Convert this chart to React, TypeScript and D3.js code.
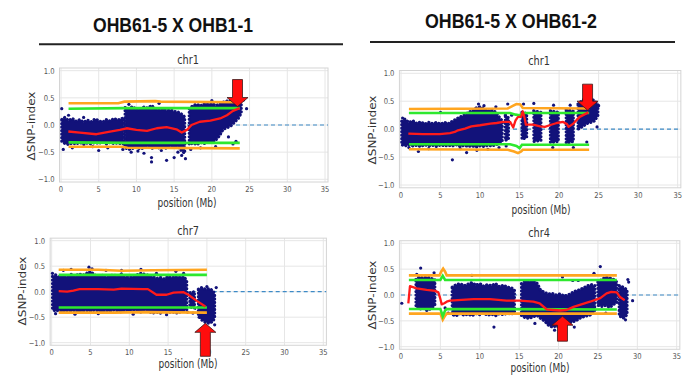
import React from 'react';
import * as d3 from 'd3';

type Pt = [number, number];
type Band = [number, number, number]; // position, low, high ; NaN row = gap

const GAP: Band = [NaN, NaN, NaN];

const headers = ['OHB61-5 X OHB1-1', 'OHB61-5 X OHB61-2'];
const panelTitles = ['chr1', 'chr1', 'chr7', 'chr4'];
const xTicks = [0, 5, 10, 15, 20, 25, 30, 35];
const yTicks = [-1, -0.5, 0, 0.5, 1];

// ---- panel 1 : OHB61-5 x OHB1-1, chr1
const p1Cloud: Band[] = [
  [0.1, -0.30, 0.10], [0.5, -0.34, 0.14], [1.0, -0.36, 0.08], [1.5, -0.33, 0.12], [2.0, -0.35, 0.07],
  [2.5, -0.32, 0.10], [3.0, -0.36, 0.05], [3.5, -0.33, 0.09], [4.0, -0.35, 0.06], [4.5, -0.32, 0.11],
  [5.0, -0.34, 0.08], [5.5, -0.31, 0.05], [6.0, -0.35, 0.10], [6.5, -0.32, 0.07], [7.0, -0.34, 0.12],
  [7.5, -0.33, 0.09], [8.3, -0.35, 0.13], GAP,
  [8.5, -0.42, 0.32], [9.0, -0.45, 0.30], [9.5, -0.43, 0.34], [10.0, -0.40, 0.28], [10.5, -0.44, 0.30],
  [11.0, -0.42, 0.33], [11.5, -0.40, 0.31], [12.0, -0.43, 0.36], [12.5, -0.41, 0.30], [13.0, -0.42, 0.28],
  [13.5, -0.40, 0.30], [14.0, -0.43, 0.26], [14.5, -0.40, 0.28], [15.0, -0.42, 0.25], [15.5, -0.40, 0.24],
  [16.0, -0.48, 0.20], [16.4, -0.52, 0.15], GAP,
  [17.0, -0.36, 0.30], [17.5, -0.33, 0.36], [18.0, -0.36, 0.38], [18.5, -0.32, 0.35], [19.0, -0.34, 0.40],
  [19.5, -0.30, 0.38], [20.0, -0.33, 0.40], [20.5, -0.28, 0.36], [21.0, -0.20, 0.38], [21.5, -0.08, 0.42],
  [22.0, -0.05, 0.44], [22.5, -0.02, 0.45], [23.0, 0.05, 0.46], [23.5, 0.12, 0.45], [23.9, 0.22, 0.42],
];
const p1Dots: Pt[] = [
  [0.1, 0.30], [0.3, -0.45], [1.5, -0.42], [4.2, -0.40], [5.0, -0.47], [6.2, -0.42], [8.2, -0.45],
  [9.3, -0.50], [10.2, -0.48], [11.0, -0.52], [12.0, -0.60], [12.0, -0.68], [13.3, -0.47], [14.0, -0.65],
  [15.0, -0.60], [15.5, -0.50], [16.0, -0.56], [16.5, -0.62], [17.2, -0.45], [18.5, -0.42], [20.5, -0.40],
  [22.2, -0.22], [22.8, -0.35], [23.2, -0.30], [23.0, 0.55], [23.6, 0.50], [24.2, 0.46], [24.6, 0.30],
  [13.0, 0.40], [9.0, 0.38], [20.0, 0.45], [1.0, 0.18], [3.0, 0.14],
];
const p1Red: Pt[] = [
  [0.97, -0.12], [2.5, -0.14], [4.7, -0.17], [6.5, -0.12], [7.8, -0.09], [8.7, -0.06], [10.0, -0.09],
  [11.4, -0.11], [12.7, -0.06], [14.0, -0.04], [15.3, -0.08], [16.0, -0.14], [16.7, -0.09], [17.3, 0.0],
  [18.4, 0.06], [19.8, 0.08], [21.1, 0.12], [22.0, 0.18], [22.8, 0.26], [23.7, 0.31],
];
const p1OrangeHi: Pt[] = [[1, 0.40], [7.6, 0.40], [8.4, 0.43], [12.5, 0.44], [13.2, 0.43], [23.7, 0.42]];
const p1GreenHi: Pt[] = [[1, 0.30], [8.4, 0.31], [23.7, 0.31]];
const p1GreenLo: Pt[] = [[1, -0.32], [8.4, -0.33], [23.7, -0.33]];
const p1OrangeLo: Pt[] = [[1, -0.40], [8.0, -0.40], [8.8, -0.42], [23.7, -0.43]];
const p1Arrow = { x: 23.4, y: 0.34, up: false };

// ---- panel 2 : OHB61-5 x OHB61-2, chr1
const p2Cloud: Band[] = [
  [0.1, -0.28, 0.14], [0.5, -0.30, 0.18], [1.0, -0.28, 0.12], [1.5, -0.30, 0.15], [2.0, -0.29, 0.10],
  [2.5, -0.31, 0.13], [3.0, -0.28, 0.09], [3.5, -0.30, 0.12], [4.0, -0.29, 0.10], [4.5, -0.31, 0.12],
  [5.0, -0.28, 0.09], [5.5, -0.30, 0.12], [6.0, -0.29, 0.10], [6.5, -0.30, 0.14], [7.0, -0.28, 0.18],
  [7.5, -0.31, 0.22], [8.0, -0.29, 0.25], [8.5, -0.31, 0.30], [9.0, -0.30, 0.33], [9.5, -0.32, 0.38],
  [10.0, -0.30, 0.40], [10.5, -0.31, 0.36], [11.0, -0.29, 0.32], [11.5, -0.30, 0.35], [12.0, -0.28, 0.30],
  [12.5, -0.25, 0.20], [12.8, -0.22, 0.15], GAP,
  [13.2, -0.20, 0.25], [13.6, -0.18, 0.20], GAP,
  [15.3, -0.18, 0.30], [15.9, -0.15, 0.28], GAP,
  [16.8, -0.22, 0.33], [17.7, -0.20, 0.30], GAP,
  [18.9, -0.24, 0.33], [19.9, -0.22, 0.30], GAP,
  [20.9, -0.25, 0.35], [21.8, -0.22, 0.32], GAP,
  [22.4, 0.00, 0.45], [23.0, 0.05, 0.52], [23.5, 0.10, 0.56], [24.0, 0.12, 0.55], [24.5, 0.15, 0.50],
  [24.9, 0.25, 0.45],
];
const p2Dots: Pt[] = [
  [0.2, 0.20], [1.0, -0.33], [2.2, -0.40], [3.5, -0.35], [6.5, -0.55], [8.3, -0.42], [9.6, -0.38],
  [10.5, 0.42], [9.8, 0.45], [12.0, 0.40], [12.4, -0.33], [13.5, 0.45], [13.3, -0.30], [14.0, 0.25],
  [15.5, 0.45], [16.8, 0.46], [19.3, 0.43], [21.4, 0.43], [19.2, -0.33], [21.8, -0.33], [23.5, -0.23],
  [24.8, 0.04], [25.0, 0.42], [11.0, -0.36], [5.0, 0.30], [7.5, -0.35],
];
const p2Red: Pt[] = [
  [0.93, -0.08], [2.8, -0.09], [4.9, -0.09], [6.2, -0.07], [6.8, -0.05], [7.2, -0.02], [8.1, 0.01],
  [8.9, 0.05], [10.0, 0.07], [11.3, 0.10], [12.1, 0.11], [12.9, 0.13], [13.8, 0.13], [14.2, 0.03],
  [14.5, 0.16], [14.8, 0.22], [15.2, 0.22], [15.4, 0.32], [15.6, 0.22], [15.8, 0.08], [16.7, 0.08],
  [17.6, 0.05], [18.2, 0.04], [18.8, 0.07], [19.7, 0.11], [20.5, 0.13], [21.0, 0.09], [21.2, 0.04],
  [21.8, 0.10], [22.6, 0.22], [23.7, 0.30],
];
const p2OrangeHi: Pt[] = [[1, 0.36], [13.5, 0.37], [14.2, 0.42], [14.6, 0.45], [15.1, 0.44], [15.4, 0.38], [23.8, 0.37]];
const p2GreenHi: Pt[] = [[1, 0.29], [13.8, 0.29], [14.5, 0.26], [15.0, 0.25], [15.4, 0.29], [23.8, 0.29]];
const p2GreenLo: Pt[] = [[1, -0.27], [13.8, -0.27], [14.6, -0.30], [15.0, -0.34], [15.3, -0.28], [23.8, -0.28]];
const p2OrangeLo: Pt[] = [[1, -0.36], [13.5, -0.37], [14.3, -0.40], [14.8, -0.43], [15.2, -0.40], [15.4, -0.37], [23.8, -0.37]];
const p2Arrow = { x: 23.6, y: 0.34, up: false };

// ---- panel 3 : OHB61-5 x OHB1-1, chr7
const p3Cloud: Band[] = [
  [0.1, -0.35, 0.30], [0.5, -0.38, 0.33], [1.0, -0.36, 0.28], [1.5, -0.40, 0.32], [2.0, -0.37, 0.30],
  [2.5, -0.39, 0.34], [3.0, -0.36, 0.30], [3.5, -0.40, 0.35], [4.0, -0.38, 0.32], [4.5, -0.37, 0.36],
  [5.0, -0.39, 0.40], [5.5, -0.36, 0.33], [6.0, -0.38, 0.30], [6.5, -0.40, 0.32], [7.0, -0.37, 0.29],
  [7.5, -0.39, 0.31], [8.0, -0.36, 0.33], [8.5, -0.38, 0.30], [9.0, -0.40, 0.35], [9.5, -0.37, 0.30],
  [10.0, -0.39, 0.28], [10.5, -0.36, 0.31], [11.0, -0.38, 0.33], [11.5, -0.40, 0.36], [12.0, -0.37, 0.34],
  [12.5, -0.39, 0.32], [13.0, -0.42, 0.30], [13.5, -0.40, 0.26], [14.0, -0.42, 0.28], [14.5, -0.38, 0.25],
  [15.0, -0.41, 0.30], [15.5, -0.39, 0.27], [16.0, -0.42, 0.31], [16.5, -0.40, 0.28], [17.0, -0.38, 0.30],
  [17.4, -0.35, 0.22], GAP,
  [17.8, -0.30, -0.02], [18.4, -0.32, 0.0], GAP,
  [18.9, -0.45, 0.05], [19.3, -0.55, 0.08], [19.8, -0.60, 0.05], [20.3, -0.62, 0.06], [20.8, -0.58, 0.02],
  [21.0, -0.50, -0.05],
];
const p3Dots: Pt[] = [
  [0.1, 0.36], [1.5, 0.42], [2.5, 0.44], [4.8, 0.48], [5.2, 0.45], [7.0, 0.42], [9.0, 0.42], [11.5, 0.44],
  [13.5, 0.36], [16.0, 0.40], [17.0, 0.36], [0.5, -0.43], [3.0, -0.44], [6.0, -0.43], [10.5, -0.44],
  [14.8, -0.45], [17.5, -0.40], [18.2, -0.42], [19.0, -0.50], [21.2, 0.08], [20.0, 0.10], [21.0, -0.65],
];
const p3Red: Pt[] = [
  [0.9, 0.01], [2.0, -0.0], [2.8, 0.02], [3.6, 0.05], [6.0, 0.05], [8.0, 0.04], [9.0, 0.06], [11.8, 0.05],
  [12.4, 0.05], [13.5, -0.06], [14.8, -0.06], [15.7, -0.02], [17.0, -0.01], [17.6, -0.06], [18.7, -0.18],
  [19.8, -0.29],
];
const p3OrangeHi: Pt[] = [[0.9, 0.43], [6.0, 0.43], [9.0, 0.41], [13.0, 0.42], [20.0, 0.43]];
const p3GreenHi: Pt[] = [[0.9, 0.33], [20.0, 0.33]];
const p3GreenLo: Pt[] = [[0.9, -0.31], [20.0, -0.31]];
const p3OrangeLo: Pt[] = [[0.9, -0.41], [8.0, -0.41], [12.0, -0.40], [20.0, -0.41]];
const p3Arrow = { x: 19.8, y: -0.62, up: true };

// ---- panel 4 : OHB61-5 x OHB61-2, chr4
const p4Cloud: Band[] = [
  [1.9, -0.22, 0.30], [2.3, -0.28, 0.35], [2.8, -0.25, 0.33], [3.3, -0.30, 0.35], [3.8, -0.26, 0.32],
  [4.3, -0.20, 0.30], GAP,
  [6.5, -0.38, 0.15], [7.0, -0.40, 0.20], [7.5, -0.36, 0.22], [8.0, -0.39, 0.18], [8.5, -0.37, 0.21],
  [9.0, -0.40, 0.24], [9.5, -0.36, 0.19], [10.0, -0.38, 0.22], [10.5, -0.35, 0.17], [11.0, -0.39, 0.20],
  [11.5, -0.37, 0.18], [12.0, -0.40, 0.22], [12.5, -0.36, 0.16], [13.0, -0.38, 0.19], [13.5, -0.35, 0.15],
  [14.0, -0.37, 0.14], [14.4, -0.33, 0.10], GAP,
  [15.3, -0.40, 0.22], [15.8, -0.44, 0.27], [16.3, -0.45, 0.25], [16.8, -0.42, 0.28], [17.3, -0.40, 0.22],
  [17.7, -0.45, 0.10], [18.2, -0.50, 0.05], [18.7, -0.58, 0.02], [19.2, -0.62, 0.03], [19.7, -0.60, 0.0],
  [20.2, -0.63, 0.02], [20.7, -0.58, -0.02], [21.2, -0.55, 0.0], [21.7, -0.52, 0.04], [22.2, -0.50, 0.08],
  [22.7, -0.45, 0.10], [23.2, -0.42, 0.14], [23.7, -0.40, 0.18], [24.2, -0.38, 0.20], [24.6, -0.30, 0.18], GAP,
  [25.0, -0.20, 0.25], [25.5, -0.22, 0.30], [26.0, -0.20, 0.35], [26.5, -0.24, 0.33], [27.0, -0.18, 0.30],
  [27.4, -0.15, 0.25], GAP,
  [27.7, -0.40, 0.18], [28.2, -0.45, 0.15], [28.7, -0.38, 0.10],
];
const p4Dots: Pt[] = [
  [0.1, -0.16], [2.5, 0.52], [2.0, 0.40], [4.2, 0.43], [5.6, -0.25], [6.0, -0.35], [11.8, -0.62],
  [20.5, 0.35], [21.8, 0.28], [22.5, 0.28], [24.5, 0.42], [25.3, 0.55], [28.8, 0.30], [28.9, 0.25],
  [29.4, -0.11], [28.5, -0.48], [26.0, -0.35], [17.0, -0.55], [19.5, -0.68], [22.0, -0.62], [9.0, 0.38],
];
const p4Red: Pt[] = [
  [0.93, -0.16], [1.14, 0.17], [1.99, 0.13], [3.26, 0.10], [4.32, 0.08], [4.74, 0.05], [4.95, -0.05],
  [5.16, -0.18], [5.5, -0.16], [5.8, -0.13], [6.22, -0.11], [9.18, -0.08], [11.3, -0.08], [13.4, -0.11],
  [15.1, -0.11], [16.8, -0.13], [17.6, -0.16], [18.5, -0.28], [19.3, -0.29], [20.2, -0.30], [21.0, -0.29],
  [21.9, -0.23], [22.7, -0.19], [24.0, -0.13], [25.3, -0.06], [26.1, 0.03], [26.7, 0.06], [27.4, 0.05],
  [27.8, -0.04], [28.4, -0.10],
];
const p4OrangeHi: Pt[] = [[1, 0.38], [4.9, 0.38], [5.1, 0.45], [5.35, 0.51], [5.6, 0.45], [5.8, 0.38], [27.4, 0.38]];
const p4GreenHi: Pt[] = [[1, 0.29], [5.0, 0.29], [5.3, 0.37], [5.6, 0.29], [27.4, 0.29]];
const p4GreenLo: Pt[] = [[1, -0.27], [5.0, -0.27], [5.3, -0.41], [5.6, -0.30], [5.8, -0.27], [27.4, -0.28]];
const p4OrangeLo: Pt[] = [[1, -0.36], [5.0, -0.36], [5.3, -0.48], [5.6, -0.40], [5.8, -0.36], [27.4, -0.36]];
const p4Arrow = { x: 20.5, y: -0.41, up: true };

const NAVY = '#12127a';
const TXT = 'DejaVu Sans, sans-serif';

interface Layout {
  x0: number; x35: number; y1: number; ym1: number;
  title: Pt; xlab: Pt; ylab: Pt; arrowLen: number;
}

const layouts: Layout[] = [
  { x0: 61, x35: 325, y1: 70.7, ym1: 179.3, title: [188, 64], xlab: [187, 206.5], ylab: [31, 126], arrowLen: 27 },
  { x0: 401, x35: 677.7, y1: 73.3, ym1: 185, title: [539, 65], xlab: [541, 213.5], ylab: [372, 130], arrowLen: 26 },
  { x0: 51.7, x35: 323.3, y1: 240.7, ym1: 342.7, title: [188, 235], xlab: [188, 368], ylab: [22, 291], arrowLen: 33 },
  { x0: 401, x35: 676.7, y1: 243.3, ym1: 346.7, title: [539, 237], xlab: [540, 371.5], ylab: [372, 295], arrowLen: 25 },
];

interface PanelProps {
  id: number; lay: Layout; title: string; cloud: Band[]; dots: Pt[]; red: Pt[];
  oHi: Pt[]; gHi: Pt[]; gLo: Pt[]; oLo: Pt[]; arrow: { x: number; y: number; up: boolean };
}

const fmt = (v: number) => (v < 0 ? '\u2212' : '') + Math.abs(v).toFixed(1);

const Panel: React.FC<PanelProps> = ({ id, lay, title, cloud, dots, red, oHi, gHi, gLo, oLo, arrow }) => {
  const x = d3.scaleLinear().domain([0, 35]).range([lay.x0, lay.x35]);
  const y = d3.scaleLinear().domain([-1, 1]).range([lay.ym1, lay.y1]);
  const fl = x(-0.2), fr = x(35.4), ft = y(1.05), fb = y(-1.05);

  const line = d3.line<Pt>().x(d => x(d[0])).y(d => y(d[1]));
  const area = d3.area<Band>()
    .defined(d => !isNaN(d[0]))
    .x(d => x(d[0]))
    .y0(d => y(d[1]))
    .y1(d => y(d[2]));

  // arrow shape, tip at (0,0), pointing down
  const L = lay.arrowLen;
  const hl = 9, hw = 10.5, bw = 5;
  const shape = [[0, 0], [-hw, -hl], [-bw, -hl], [-bw, -L], [bw, -L], [bw, -hl], [hw, -hl]];
  const ax = x(arrow.x), ay = y(arrow.y);
  const arrowPts = shape.map(([px, py]) => `${ax + px},${ay + (arrow.up ? -py : py)}`).join(' ');

  const cloudPath = area(cloud) || '';

  return (
    <g>
      <defs>
        <clipPath id={`clip${id}`}>
          <rect x={fl} y={ft} width={fr - fl} height={fb - ft} />
        </clipPath>
      </defs>
      <rect x={fl} y={ft} width={fr - fl} height={fb - ft} fill="#fff" />
      {xTicks.map(t => (
        <line key={`gx${t}`} x1={x(t)} x2={x(t)} y1={ft} y2={fb} stroke="#e6e6e6" strokeWidth={1} />
      ))}
      {yTicks.map(t => (
        <line key={`gy${t}`} x1={fl} x2={fr} y1={y(t)} y2={y(t)} stroke="#e6e6e6" strokeWidth={1} />
      ))}
      <rect x={fl} y={ft} width={fr - fl} height={fb - ft} fill="none" stroke="#d4d4d4" strokeWidth={1} />

      <g clipPath={`url(#clip${id})`}>
        <line x1={x(0)} x2={x(35.4)} y1={y(0)} y2={y(0)} stroke="#3d8ac6" strokeWidth={1.2} strokeDasharray="4,3" />
        <path d={cloudPath} fill={NAVY} />
        <path d={cloudPath} fill="none" stroke={NAVY} strokeWidth={3.2} strokeLinecap="round"
          strokeDasharray="0.1,3.4" />
        {dots.map((d, i) => (
          <circle key={i} cx={x(d[0])} cy={y(d[1])} r={1.6} fill={NAVY} />
        ))}
        <path d={line(oHi) || ''} fill="none" stroke="#ffa51f" strokeWidth={2.6} />
        <path d={line(oLo) || ''} fill="none" stroke="#ffa51f" strokeWidth={2.6} />
        <path d={line(gHi) || ''} fill="none" stroke="#2ee82e" strokeWidth={2.6} />
        <path d={line(gLo) || ''} fill="none" stroke="#2ee82e" strokeWidth={2.6} />
        <path d={line(red) || ''} fill="none" stroke="#ff1a1a" strokeWidth={2.3} strokeLinejoin="round" />
      </g>

      {xTicks.map(t => (
        <text key={`tx${t}`} transform={`translate(${x(t)},${fb + 10}) scale(0.85,1)`}
          textAnchor="middle" fontSize={8} fill="#555" fontFamily={TXT}>{t}</text>
      ))}
      {yTicks.map(t => (
        <text key={`ty${t}`} transform={`translate(${fl - 5},${y(t) + 3}) scale(0.85,1)`}
          textAnchor="end" fontSize={8} fill="#555" fontFamily={TXT}>{fmt(t)}</text>
      ))}

      <text transform={`translate(${lay.title[0]},${lay.title[1]}) scale(0.75,1)`}
        textAnchor="middle" fontSize={13} fill="#333" fontFamily={TXT}>{title}</text>
      <text transform={`translate(${lay.xlab[0]},${lay.xlab[1]}) scale(0.72,1)`}
        textAnchor="middle" fontSize={12.5} fill="#333" fontFamily={TXT}>position (Mb)</text>
      <text transform={`translate(${lay.ylab[0] + 4},${lay.ylab[1]}) scale(0.8,1) rotate(-90)`}
        textAnchor="middle" fontSize={12} fill="#333" fontFamily={TXT}>ΔSNP-index</text>

      <polygon points={arrowPts} fill="#ff0d0d" stroke="#3a1a1a" strokeWidth={0.8} />
    </g>
  );
};

const App: React.FC = () => {
  const panels = [
    { cloud: p1Cloud, dots: p1Dots, red: p1Red, oHi: p1OrangeHi, gHi: p1GreenHi, gLo: p1GreenLo, oLo: p1OrangeLo, arrow: p1Arrow },
    { cloud: p2Cloud, dots: p2Dots, red: p2Red, oHi: p2OrangeHi, gHi: p2GreenHi, gLo: p2GreenLo, oLo: p2OrangeLo, arrow: p2Arrow },
    { cloud: p3Cloud, dots: p3Dots, red: p3Red, oHi: p3OrangeHi, gHi: p3GreenHi, gLo: p3GreenLo, oLo: p3OrangeLo, arrow: p3Arrow },
    { cloud: p4Cloud, dots: p4Dots, red: p4Red, oHi: p4OrangeHi, gHi: p4GreenHi, gLo: p4GreenLo, oLo: p4OrangeLo, arrow: p4Arrow },
  ];
  return (
    <svg width={684} height={382} style={{ position: 'absolute', left: 0, top: 0, background: '#fff' }}>
      <rect width={684} height={382} fill="#fff" />
      <text x={173} y={31.5} textAnchor="middle" fontSize={20} fontWeight="bold" fill="#111"
        fontFamily="Liberation Sans Narrow, Arial Narrow, Liberation Sans, sans-serif"
        textLength={160} lengthAdjust="spacingAndGlyphs">{headers[0]}</text>
      <line x1={39} x2={343} y1={44.3} y2={44.3} stroke="#222" strokeWidth={2} />
      <text x={511} y={28} textAnchor="middle" fontSize={20} fontWeight="bold" fill="#111"
        fontFamily="Liberation Sans Narrow, Arial Narrow, Liberation Sans, sans-serif"
        textLength={172} lengthAdjust="spacingAndGlyphs">{headers[1]}</text>
      <line x1={370} x2={675} y1={42} y2={42} stroke="#222" strokeWidth={2} />
      {panels.map((p, i) => (
        <Panel key={i} id={i} lay={layouts[i]} title={panelTitles[i]} {...p} />
      ))}
    </svg>
  );
};

export default App;
